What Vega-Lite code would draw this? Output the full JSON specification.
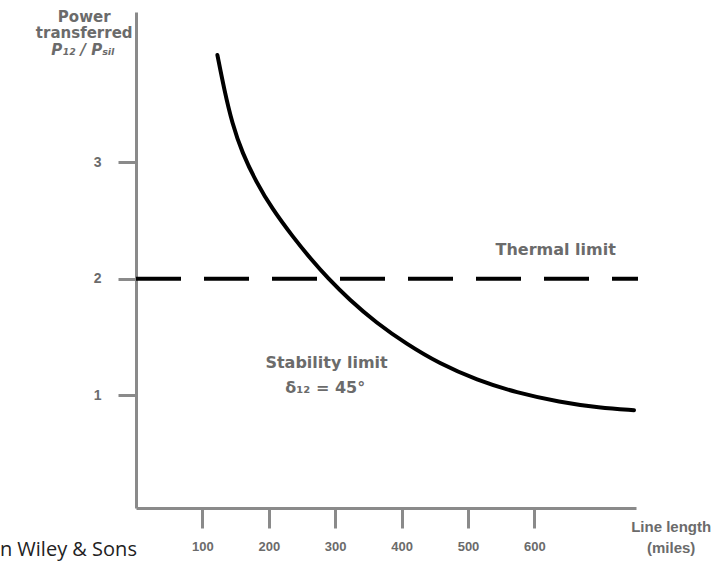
{
  "$schema": "https://vega.github.io/schema/vega-lite/v6.json",
  "width": 500,
  "height": 496,
  "autosize": "none",
  "padding": {"left": 136, "top": 12, "right": 86, "bottom": 55},
  "background": "white",
  "config": {
    "view": {"stroke": null},
    "axis": {
      "grid": false,
      "domainColor": "#8a8a8a",
      "domainWidth": 3,
      "tickColor": "#8a8a8a",
      "tickWidth": 3,
      "labelFont": "Liberation Sans",
      "labelFontWeight": "bold",
      "labelFontSize": 13,
      "labelColor": "#6b6b6b",
      "title": null
    }
  },
  "datasets": {
    "curve": [
      {"miles": 122.6, "p": 3.92},
      {"miles": 133, "p": 3.62},
      {"miles": 145, "p": 3.33},
      {"miles": 160, "p": 3.08},
      {"miles": 181, "p": 2.83},
      {"miles": 205, "p": 2.60},
      {"miles": 236, "p": 2.36},
      {"miles": 266, "p": 2.15},
      {"miles": 288, "p": 2.01},
      {"miles": 321, "p": 1.82},
      {"miles": 362, "p": 1.62},
      {"miles": 407, "p": 1.44},
      {"miles": 457, "p": 1.27},
      {"miles": 513, "p": 1.13},
      {"miles": 573, "p": 1.02},
      {"miles": 638, "p": 0.94},
      {"miles": 698, "p": 0.89},
      {"miles": 750, "p": 0.87}
    ],
    "thermal": [
      {"miles": 0, "p": 2},
      {"miles": 756, "p": 2}
    ],
    "notes": [
      {"miles": 632, "p": 2.25, "label": "Thermal limit"},
      {"miles": 287, "p": 1.275, "label": "Stability limit"},
      {"miles": 285, "p": 1.06, "label": "δ₁₂ = 45°"}
    ],
    "titles": [
      {"miles": -78, "p": 4.25, "label": "Power"},
      {"miles": -78, "p": 4.11, "label": "transferred"}
    ],
    "xtitle": [
      {"miles": 806, "p": -0.13, "label": "Line length"},
      {"miles": 806, "p": -0.31, "label": "(miles)"}
    ],
    "ylabel": [
      {"miles": -80, "p": 3.96, "label": "P₁₂ / Pₛᵢₗ"}
    ],
    "credit": [
      {"miles": -205, "p": -0.33, "label": "n Wiley & Sons"}
    ]
  },
  "layer": [
    {
      "data": {"name": "curve"},
      "mark": {"type": "line", "interpolate": "basis", "color": "black", "strokeWidth": 4, "strokeCap": "round"},
      "encoding": {
        "x": {
          "field": "miles", "type": "quantitative",
          "scale": {"domain": [0, 753], "nice": false, "zero": false},
          "axis": {"values": [100, 200, 300, 400, 500, 600], "tickSize": 20, "labelPadding": 12, "format": "d"}
        },
        "y": {
          "field": "p", "type": "quantitative",
          "scale": {"domain": [0.03, 4.29], "nice": false, "zero": false},
          "axis": {"values": [1, 2, 3], "tickSize": 18, "labelPadding": 17, "format": "d", "labelFontSize": 14}
        }
      }
    },
    {
      "data": {"name": "thermal"},
      "mark": {"type": "line", "color": "black", "strokeWidth": 4, "strokeDash": [45, 23], "strokeCap": "butt"},
      "encoding": {
        "x": {"field": "miles", "type": "quantitative"},
        "y": {"field": "p", "type": "quantitative"}
      }
    },
    {
      "data": {"name": "notes"},
      "mark": {"type": "text", "font": "DejaVu Sans", "fontWeight": "bold", "fontSize": 16, "color": "#6b6b6b", "align": "center", "baseline": "middle"},
      "encoding": {
        "x": {"field": "miles", "type": "quantitative"},
        "y": {"field": "p", "type": "quantitative"},
        "text": {"field": "label"}
      }
    },
    {
      "data": {"name": "titles"},
      "mark": {"type": "text", "font": "DejaVu Sans", "fontWeight": "bold", "fontSize": 15, "color": "#6b6b6b", "align": "center", "baseline": "middle"},
      "encoding": {
        "x": {"field": "miles", "type": "quantitative"},
        "y": {"field": "p", "type": "quantitative"},
        "text": {"field": "label"}
      }
    },
    {
      "data": {"name": "xtitle"},
      "mark": {"type": "text", "font": "Liberation Sans", "fontWeight": "bold", "fontSize": 15, "color": "#6b6b6b", "align": "center", "baseline": "middle"},
      "encoding": {
        "x": {"field": "miles", "type": "quantitative"},
        "y": {"field": "p", "type": "quantitative"},
        "text": {"field": "label"}
      }
    },
    {
      "data": {"name": "ylabel"},
      "mark": {"type": "text", "font": "DejaVu Sans", "fontWeight": "bold", "fontStyle": "italic", "fontSize": 15, "color": "#6b6b6b", "align": "center", "baseline": "middle"},
      "encoding": {
        "x": {"field": "miles", "type": "quantitative"},
        "y": {"field": "p", "type": "quantitative"},
        "text": {"field": "label"}
      }
    },
    {
      "data": {"name": "credit"},
      "mark": {"type": "text", "font": "Open Sans", "fontSize": 20, "color": "#222222", "align": "left", "baseline": "middle"},
      "encoding": {
        "x": {"field": "miles", "type": "quantitative"},
        "y": {"field": "p", "type": "quantitative"},
        "text": {"field": "label"}
      }
    }
  ]
}
